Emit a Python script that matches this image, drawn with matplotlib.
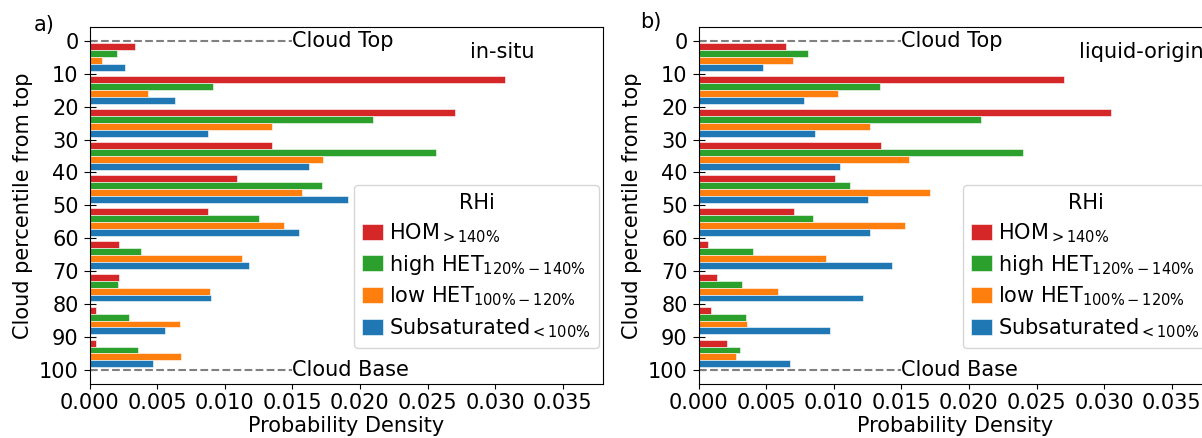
import numpy as np
import matplotlib
matplotlib.use("Agg")
import matplotlib.pyplot as plt

# ---- data ----
percentile_bins = [0, 10, 20, 30, 40, 50, 60, 70, 80, 90]
series_names = ["HOM$_{>140\\%}$", "high HET$_{120\\%-140\\%}$",
                "low HET$_{100\\%-120\\%}$", "Subsaturated$_{<100\\%}$"]
series_colors = ["#d62728", "#2ca02c", "#ff7f0e", "#1f77b4"]

insitu_hom = [0.0034, 0.0307, 0.0270, 0.0135, 0.0109, 0.0088, 0.0022, 0.0022, 0.0005, 0.0005]
insitu_high = [0.0020, 0.0091, 0.0210, 0.0256, 0.0172, 0.0125, 0.0038, 0.0021, 0.0029, 0.0036]
insitu_low = [0.0009, 0.0043, 0.0135, 0.0173, 0.0157, 0.0144, 0.0113, 0.0089, 0.0067, 0.0068]
insitu_sub = [0.0026, 0.0063, 0.0088, 0.0162, 0.0191, 0.0155, 0.0118, 0.0090, 0.0056, 0.0047]

liquid_hom = [0.0065, 0.0270, 0.0305, 0.0135, 0.0101, 0.0071, 0.0007, 0.0014, 0.0009, 0.0021]
liquid_high = [0.0081, 0.0134, 0.0209, 0.0240, 0.0112, 0.0085, 0.0040, 0.0032, 0.0035, 0.0031]
liquid_low = [0.0070, 0.0103, 0.0127, 0.0156, 0.0171, 0.0153, 0.0094, 0.0059, 0.0036, 0.0028]
liquid_sub = [0.0048, 0.0078, 0.0086, 0.0105, 0.0125, 0.0127, 0.0143, 0.0122, 0.0097, 0.0068]

panel_letters = ["a)", "b)"]
panel_titles = ["in-situ", "liquid-origin"]
cloud_top, cloud_base = 0, 100
marker_len = 0.015

FS = 15
plt.rcParams["font.family"] = ["DejaVu Sans"]
plt.rcParams["font.size"] = FS

W, H = 1202, 438
fig = plt.figure(figsize=(W / 100, H / 100), dpi=100)

ax_w = 513.8 / W
ax_h = 356.2 / H
ax_b = (H - 383.5) / H
lefts = [89.5 / W, 698.5 / W]

datasets = [
    [insitu_hom, insitu_high, insitu_low, insitu_sub],
    [liquid_hom, liquid_high, liquid_low, liquid_sub],
]

bar_h = 2.1
offsets = np.array([-1.5, -0.5, 0.5, 1.5]) * bar_h
centers = np.array(percentile_bins) + 5

for i in range(2):
    ax = fig.add_axes([lefts[i], ax_b, ax_w, ax_h])
    for k, vals in enumerate(datasets[i]):
        ax.barh(centers + offsets[k], vals, height=bar_h, color=series_colors[k],
                edgecolor="white", linewidth=0.4, label=series_names[k])
    ax.set_xlim(0, 0.038)
    ax.set_ylim(104.12, -4.12)
    ax.set_yticks(np.arange(0, 101, 10))
    ax.set_xticks(np.arange(0, 0.0351, 0.005))
    ax.set_xticklabels([f"{v:.3f}" for v in np.arange(0, 0.0351, 0.005)])
    ax.tick_params(axis="y", direction="inout", length=8.6)
    ax.axhline(cloud_top, xmin=0, xmax=marker_len / 0.038, ls="--", color="grey", lw=1.5)
    ax.axhline(cloud_base, xmin=0, xmax=marker_len / 0.038, ls="--", color="grey", lw=1.5)
    ax.text(marker_len, cloud_top, "Cloud Top", ha="left", va="center")
    ax.text(marker_len, cloud_base, "Cloud Base", ha="left", va="center")
    ax.text(0.74, 0.932, panel_titles[i], transform=ax.transAxes, ha="left", va="center")
    ax.set_xlabel("Probability Density", labelpad=2)
    ax.set_ylabel("Cloud percentile from top")
    ax.legend(title="RHi", loc="lower right", bbox_to_anchor=(0.992, 0.0997),
              borderaxespad=0, fontsize=FS, title_fontsize=FS,
              handlelength=1.0, handleheight=0.8, handletextpad=0.3,
              labelspacing=0.38)

fig.text(34 / W, 1 - 25 / H, panel_letters[0], ha="left", va="center", fontsize=FS)
fig.text(640 / W, 1 - 22 / H, panel_letters[1], ha="left", va="center", fontsize=FS)

fig.savefig("out.png", dpi=100)
